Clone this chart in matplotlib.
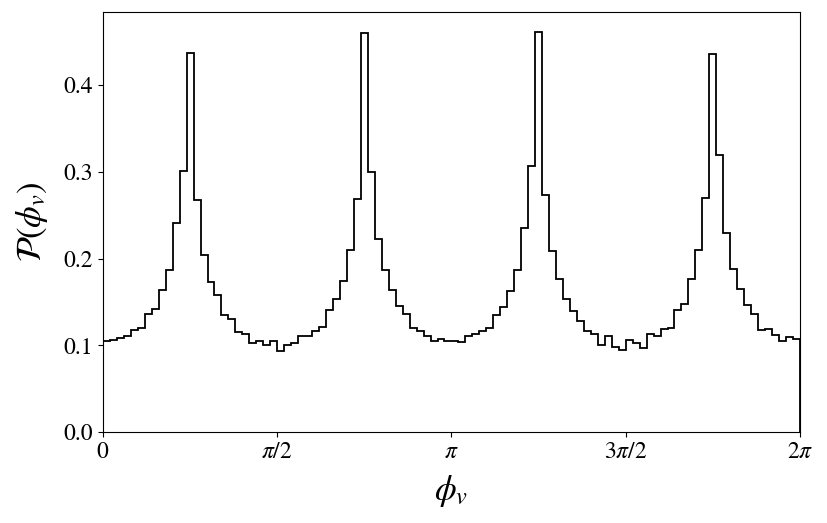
import numpy as np
from matplotlib import pyplot as plt

plt.rcParams['font.family'] = 'STIXGeneral'
plt.rcParams['mathtext.fontset'] = 'stix'

# probability density per bin, 100 bins on [0, 2pi]
peak1 = [0.1045, 0.1064, 0.1087, 0.1113, 0.1182, 0.1205, 0.1366, 0.1424, 0.1643, 0.1873,
         0.2407, 0.3010, 0.4372, 0.2676, 0.2043, 0.1735, 0.1582, 0.1352, 0.1306, 0.1148,
         0.1129, 0.1026, 0.1045, 0.1006, 0.1045]
peak2 = [0.0937, 0.0998, 0.1021, 0.1113, 0.1113, 0.1167, 0.1217, 0.1409, 0.1539, 0.1747,
         0.2100, 0.2687, 0.4602, 0.3002, 0.2227, 0.1866, 0.1643, 0.1459, 0.1366, 0.1205,
         0.1167, 0.1113, 0.1052, 0.1068, 0.1045]
peak3 = [0.1045, 0.1033, 0.1106, 0.1129, 0.1160, 0.1205, 0.1344, 0.1440, 0.1631, 0.1866,
         0.2357, 0.3071, 0.4614, 0.2733, 0.2092, 0.1770, 0.1532, 0.1401, 0.1275, 0.1160,
         0.1129, 0.0998, 0.1113, 0.0975, 0.0949]
peak4 = [0.1064, 0.1026, 0.0968, 0.1129, 0.1102, 0.1190, 0.1205, 0.1409, 0.1478, 0.1763,
         0.2100, 0.2695, 0.4357, 0.3194, 0.2292, 0.1878, 0.1648, 0.1467, 0.1363, 0.1171,
         0.1187, 0.1121, 0.1045, 0.1095, 0.1072]
density = np.array(peak1 + peak2 + peak3 + peak4)
edges = np.linspace(0, 2 * np.pi, len(density) + 1)

tick_pos = [0, np.pi / 2, np.pi, 3 * np.pi / 2, 2 * np.pi]
tick_lbl = ['$0$', r'$\pi/2$', r'$\pi$', r'$3\pi/2$', r'$2\pi$']

fig = plt.figure(figsize=(8.27, 5.23), dpi=100)
ax = fig.add_axes([0.1245, 0.174, 0.8428, 0.803])
ax.stairs(density, edges, color='k', lw=1.3, baseline=0)
ax.set_xlim(0, 2 * np.pi)
ax.set_ylim(0, density.max() * 1.05)
ax.set_xticks(tick_pos)
ax.set_xticklabels(tick_lbl)
ax.set_yticks([0.0, 0.1, 0.2, 0.3, 0.4])
ax.tick_params(labelsize=17)
ax.set_xlabel(r'$\phi_v$', fontsize=25, labelpad=7)
ax.set_ylabel(r'$\mathcal{P}(\phi_v)$', fontsize=25, labelpad=10)
fig.savefig('out.png', dpi=100)
